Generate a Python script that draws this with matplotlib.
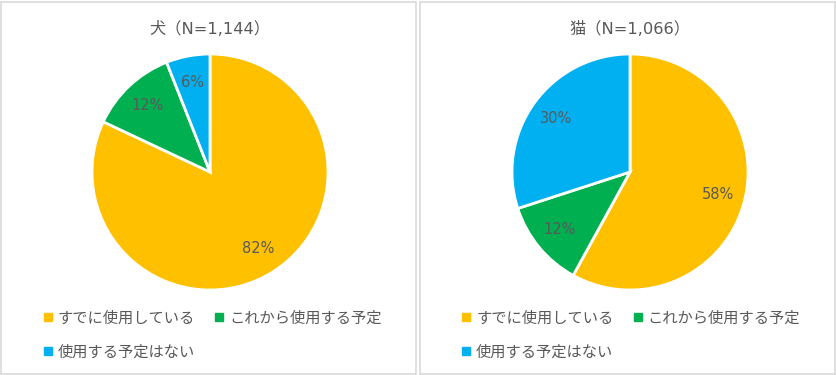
import matplotlib.pyplot as plt
from matplotlib.patches import Rectangle
from matplotlib.lines import Line2D

plt.rcParams["font.family"] = ["DejaVu Sans", "Noto Sans CJK JP"]

# ----------------------------------------------------------
# DATA
# ----------------------------------------------------------

categories = ["すでに使用している", "これから使用する予定", "使用する予定はない"]
colors = ["#FFC000", "#00B050", "#00B0F0"]

dog_title = "犬（N=1,144）"
dog_values = [82, 12, 6]

cat_title = "猫（N=1,066）"
cat_values = [58, 12, 30]

TEXT_COLOR = "#595959"
W, H = 837, 375

fig = plt.figure(figsize=(W / 100, H / 100), dpi=100)


def px_axes(x0, y0, w, h):
    # pixel box (top-left origin) -> figure axes
    return fig.add_axes([x0 / W, (H - y0 - h) / H, w / W, h / H])


def panel(x_left, x_right, cx, title, values):
    # border
    fig.patches.append(Rectangle(
        (x_left / W, 1.5 / H), (x_right - x_left) / W, (H - 3.5) / H,
        transform=fig.transFigure, fill=False,
        edgecolor="#D9D9D9", linewidth=1.2
    ))

    fig.text(cx / W, 1 - 29 / H, title, ha="center", va="center",
             fontsize=11.7, color=TEXT_COLOR)

    r = 118
    ax = px_axes(cx - r, 172 - r, 2 * r, 2 * r)
    ax.pie(
        values,
        colors=colors,
        startangle=90,
        counterclock=False,
        autopct=lambda p: f"{p:.0f}%",
        pctdistance=0.77,
        wedgeprops=dict(edgecolor="white", linewidth=2),
        textprops=dict(color=TEXT_COLOR, fontsize=10.5),
    )
    ax.set_xlim(-1.0, 1.0)
    ax.set_ylim(-1.0, 1.0)
    ax.set_aspect("equal")

    handles = [
        Line2D([], [], marker="s", linestyle="none", markersize=6,
               markerfacecolor=c, markeredgecolor=c)
        for c in colors
    ]
    order = [0, 2, 1]
    fig.legend(
        [handles[i] for i in order],
        [categories[i] for i in order],
        ncol=2,
        loc="upper left",
        bbox_to_anchor=((x_left + 34.5) / W, 1 - 303 / H),
        frameon=False,
        fontsize=11,
        labelcolor=TEXT_COLOR,
        handlelength=0.6,
        handletextpad=0.35,
        columnspacing=1.3,
        labelspacing=1.25,
        borderpad=0,
    )


panel(1, 416.5, 210, dog_title, dog_values)
panel(419.5, 835, 630, cat_title, cat_values)

plt.savefig("out.png", dpi=100)
